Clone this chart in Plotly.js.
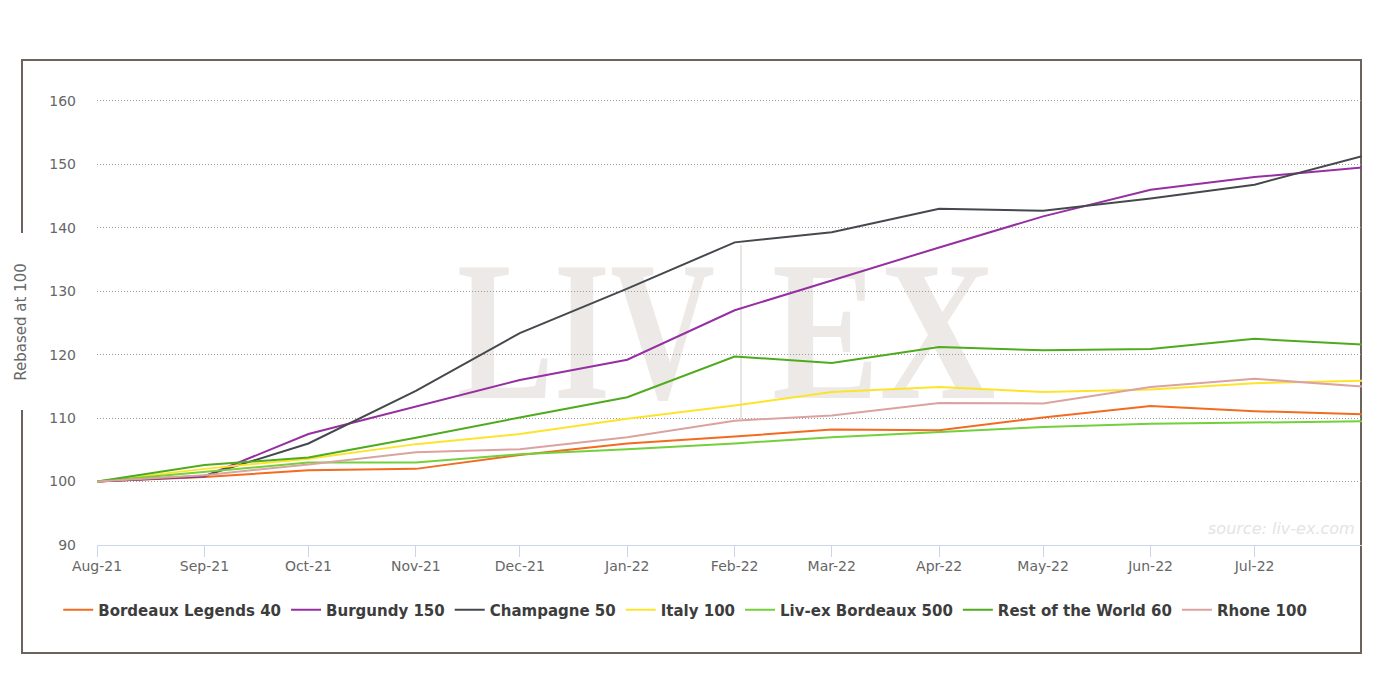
<!DOCTYPE html>
<html>
<head>
<meta charset="utf-8">
<script src="https://cdn.plot.ly/plotly-3.0.1.min.js"></script>
<style>
  body { margin: 0; background: #fff; }
  #wrap { position: relative; width: 1380px; height: 674px; overflow: hidden; }
  #chart { position: absolute; left: 0; top: 0; width: 1380px; height: 674px; z-index: 3; }
  .frame { position: absolute; left: 21px; top: 59px; width: 1339px; height: 591px;
           border: 2px solid #6e625e; border-left: none; z-index: 0; }
  .edge { position: absolute; left: 21px; width: 2px; background: #6e625e; z-index: 0; }
  .mark { position: absolute; font-family: "Liberation Serif", "DejaVu Serif", serif; font-weight: bold;
          font-size: 200px; line-height: 200px; color: #ece9e7; transform-origin: 0 0; z-index: 1; white-space: nowrap; }
  .bar { position: absolute; left: 740px; top: 245px; width: 2px; height: 174px; background: #e8e5e3; z-index: 1; }
</style>
</head>
<body>
<div id="wrap">
  <div class="frame"></div>
  <div class="edge" style="top:59px;height:174px"></div>
  <div class="edge" style="top:410px;height:242px"></div>
  <div class="mark" style="left:457px;top:231px;transform:scaleX(0.725)">LIV</div>
  <div class="bar"></div>
  <div class="mark" style="left:772px;top:231px;transform:scaleX(0.806)">EX</div>
  <div id="chart"></div>
</div>
<script>
// monthly index levels, rebased at 100 (Aug-21)
const months = ['2021-08-01','2021-09-01','2021-10-01','2021-11-01','2021-12-01','2022-01-01',
                '2022-02-01','2022-03-01','2022-04-01','2022-05-01','2022-06-01','2022-07-01','2022-08-01'];
const tickDates = months.slice(0, 12);
const tickText = ['Aug-21','Sep-21','Oct-21','Nov-21','Dec-21','Jan-22','Feb-22','Mar-22','Apr-22','May-22','Jun-22','Jul-22'];

const bordeauxLegends = [100, 100.7, 101.8, 102.0, 104.2, 106.0, 107.1, 108.2, 108.1, 110.1, 111.9, 111.1, 110.6];
const burgundy        = [100, 100.8, 107.5, 111.8, 116.0, 119.2, 127.0, 131.7, 136.9, 141.8, 146.0, 148.0, 149.5];
const champagne       = [100, 100.9, 106.0, 114.3, 123.4, 130.4, 137.7, 139.3, 143.0, 142.7, 144.6, 146.8, 151.3];
const italy           = [100, 102.0, 103.6, 105.9, 107.5, 109.9, 112.0, 114.1, 114.9, 114.1, 114.5, 115.5, 115.9];
const livex500        = [100, 101.5, 103.0, 103.0, 104.3, 105.1, 106.0, 107.0, 107.8, 108.6, 109.1, 109.3, 109.5];
const restOfWorld     = [100, 102.6, 103.8, 106.9, 110.1, 113.3, 119.7, 118.7, 121.2, 120.7, 120.9, 122.5, 121.6];
const rhone           = [100, 101.0, 102.7, 104.6, 105.1, 107.0, 109.6, 110.4, 112.4, 112.3, 114.9, 116.2, 115.0];

function getTrace(name, values, color){
  return {
    type: 'scatter',
    mode: 'lines',
    name: name,
    x: months,
    y: values,
    line: {color: color, width: 2},
    hoverinfo: 'skip'
  };
}

const data = [
  getTrace('Bordeaux Legends 40', bordeauxLegends, '#f26b21'),
  getTrace('Burgundy 150', burgundy, '#962fa2'),
  getTrace('Champagne 50', champagne, '#45494e'),
  getTrace('Italy 100', italy, '#fde42c'),
  getTrace('Liv-ex Bordeaux 500', livex500, '#74cf3c'),
  getTrace('Rest of the World 60', restOfWorld, '#4fab1e'),
  getTrace('Rhone 100', rhone, '#dba3a0')
];

const layout = {
  width: 1380,
  height: 674,
  margin: {l: 97, r: 18, t: 99, b: 129},
  paper_bgcolor: 'rgba(0,0,0,0)',
  plot_bgcolor: 'rgba(0,0,0,0)',
  font: {family: 'DejaVu Sans, sans-serif', size: 14, color: '#666'},
  showlegend: true,
  legend: {
    orientation: 'h',
    x: 0.465, xanchor: 'center',
    y: -0.146, yanchor: 'middle',
    font: {size: 15, color: '#3d3d3d', weight: 'bold'},
    itemwidth: 30,
    bgcolor: 'rgba(0,0,0,0)'
  },
  xaxis: {
    type: 'date',
    range: ['2021-08-01', '2022-08-01'],
    tickmode: 'array',
    tickvals: tickDates,
    ticktext: tickText,
    showgrid: false,
    showline: true,
    linecolor: '#ccd6eb',
    linewidth: 1,
    ticks: 'outside',
    ticklen: 11,
    tickcolor: '#ccd6eb',
    ticklabelstandoff: -3,
    tickfont: {size: 14, color: '#666'},
    zeroline: false,
    fixedrange: true
  },
  yaxis: {
    range: [90, 160.3],
    tickvals: [90, 100, 110, 120, 130, 140, 150, 160],
    showgrid: true,
    gridcolor: '#999999',
    griddash: '1px,2px',
    gridwidth: 1,
    zeroline: false,
    showline: false,
    ticks: '',
    ticklabelstandoff: 20,
    tickfont: {size: 14, color: '#666'},
    title: {text: 'Rebased at 100', font: {size: 15, color: '#666'}, standoff: 19},
    fixedrange: true
  },
  annotations: [{
    text: 'source: liv-ex.com',
    xref: 'paper', yref: 'paper',
    x: 0.996, xanchor: 'right',
    y: 0.038, yanchor: 'middle',
    showarrow: false,
    font: {size: 16, color: '#e4e4e4', style: 'italic'}
  }]
};

Plotly.newPlot('chart', data, layout, {displayModeBar: false, staticPlot: true});
</script>
</body>
</html>
